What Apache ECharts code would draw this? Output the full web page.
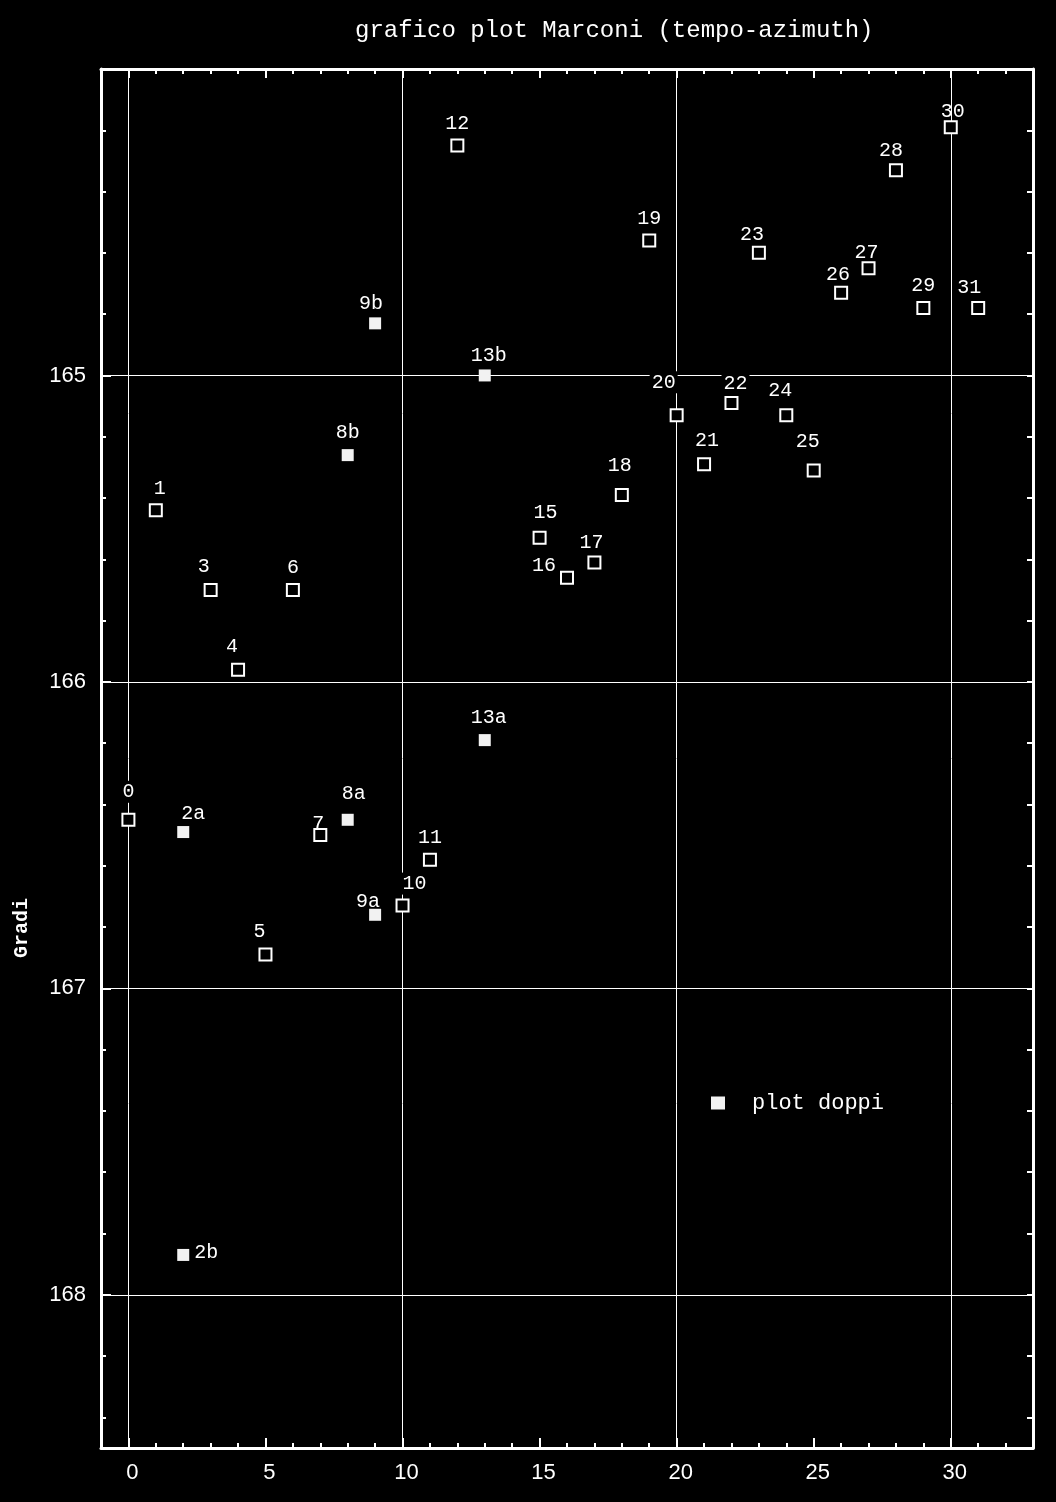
<!DOCTYPE html>
<html>
<head>
<meta charset="utf-8">
<script src="https://cdn.jsdelivr.net/npm/echarts@6/dist/echarts.min.js"></script>
<style>
html,body{margin:0;padding:0;background:#000;}
#chart{width:1056px;height:1502px;}
</style>
</head>
<body>
<div id="chart"></div>
<script>
// ---- data ----
var plotLabels = ['0','1','3','4','5','6','7','10','11','12','15','16','17','18','19','20','21','22','23','24','25','26','27','28','29','30','31'];
var plotX      = [0, 1, 3, 4, 5, 6, 7, 10, 11, 12, 15, 16, 17, 18, 19, 20, 21, 22, 23, 24, 25, 26, 27, 28, 29, 30, 31];
var plotY      = [166.45, 165.44, 165.70, 165.96, 166.89, 165.70, 166.50, 166.73, 166.58, 164.25, 165.53, 165.66, 165.61, 165.39, 164.56, 165.13, 165.29, 165.09, 164.60, 165.13, 165.31, 164.73, 164.65, 164.33, 164.78, 164.19, 164.78];

var doppiLabels = ['2a','2b','8a','8b','9a','9b','13a','13b'];
var doppiX      = [2, 2, 8, 8, 9, 9, 13, 13];
var doppiY      = [166.49, 167.87, 166.45, 165.26, 166.76, 164.83, 166.19, 165.00];

var xMajorTicks = [0, 5, 10, 15, 20, 25, 30];
var xMinorTicks = [-1,0,1,2,3,4,5,6,7,8,9,10,11,12,13,14,15,16,17,18,19,20,21,22,23,24,25,26,27,28,29,30,31,32,33];
var yMajorTicks = [164, 165, 166, 167, 168];
var yLabelTicks = [165, 166, 167, 168];
var yMinorTicks = [164.2,164.4,164.6,164.8,165.2,165.4,165.6,165.8,166.2,166.4,166.6,166.8,167.2,167.4,167.6,167.8,168.2,168.4];
var yAllTicks   = [164,164.2,164.4,164.6,164.8,165,165.2,165.4,165.6,165.8,166,166.2,166.4,166.6,166.8,167,167.2,167.4,167.6,167.8,168,168.2,168.4];
var gridX = [0, 10, 20, 30];
var gridY = [165, 166, 167, 168];

// label placement (pixels, relative to the marker centre)
var defaultOffset = [0, -22];
var labelOffset = {
  '0':[0,-28], '2a':[10,-18], '2b':[23,-2], '3':[-7,-23], '4':[-6,-23], '5':[-6,-23], '7':[-2,-11],
  '8a':[6,-26], '9a':[-7,-13], '9b':[-4,-20], '10':[12,-22], '13a':[4,-22], '13b':[4,-20],
  '15':[6,-25], '16':[-23,-12], '17':[-3,-20], '18':[-2,-29], '20':[-13,-33], '22':[4,-19],
  '23':[-7,-18], '24':[-6,-25], '25':[-6,-29], '26':[-3,-18], '27':[-2,-15], '28':[-5,-19],
  '30':[2,-16], '31':[-9,-20], '21':[3,-24], '1':[4,-22]
};
var noBackground = ['7', '9a', '27', '30', '2a', '23', '26'];

function build(labels, xs, ys) {
  return labels.map(function (n, i) {
    var lab = { offset: labelOffset[n] || defaultOffset };
    if (noBackground.indexOf(n) >= 0) { lab.backgroundColor = 'transparent'; lab.padding = 0; }
    return { name: n, value: [xs[i], ys[i]], label: lab };
  });
}

var MONO = '"Liberation Mono", "DejaVu Sans Mono", monospace';
var SANS = '"Liberation Sans", Arial, sans-serif';
var white = '#ffffff';

var chart = echarts.init(document.getElementById('chart'));
var labelStyle = {
  show: true, position: 'inside', formatter: '{b}', color: white,
  fontFamily: MONO, fontSize: 20, backgroundColor: '#000', padding: [1, 2]
};

chart.setOption({
  backgroundColor: '#000',
  animation: false,
  title: {
    text: 'grafico plot Marconi (tempo-azimuth)',
    left: 350, top: 14,
    textStyle: { color: white, fontFamily: MONO, fontSize: 24, fontWeight: 'normal' }
  },
  legend: {
    data: ['plot doppi'], left: 706, top: 1087, icon: 'rect', itemWidth: 14, itemHeight: 13,
    textStyle: { color: white, fontFamily: MONO, fontSize: 22, padding: [0, 0, 0, 22] }
  },
  graphic: [{
    type: 'text', left: 12, top: 898, rotation: Math.PI / 2,
    style: { text: 'Gradi', fill: white, font: 'bold 20px ' + MONO }
  }],
  grid: { left: 101, right: 23, top: 69, bottom: 54, show: false },
  xAxis: [
    { type: 'value', min: -1, max: 33, position: 'bottom',
      axisLine: { show: true, onZero: false, lineStyle: { color: white, width: 3 } },
      axisTick: { show: true, inside: true, length: 10, customValues: xMajorTicks, lineStyle: { color: white, width: 2 } },
      axisLabel: { show: true, customValues: xMajorTicks, color: white, fontFamily: SANS, fontSize: 22, margin: 14, padding: [0, 0, 0, 8] },
      splitLine: { show: false } },
    { type: 'value', min: -1, max: 33, position: 'bottom',
      axisLine: { show: false, onZero: false },
      axisTick: { show: true, inside: true, length: 5, customValues: xMinorTicks, lineStyle: { color: white, width: 2 } },
      axisLabel: { show: false }, splitLine: { show: false } },
    { type: 'value', min: -1, max: 33, position: 'top',
      axisLine: { show: true, onZero: false, lineStyle: { color: white, width: 3 } },
      axisTick: { show: true, inside: true, length: 5, customValues: xMinorTicks, lineStyle: { color: white, width: 2 } },
      axisLabel: { show: false }, splitLine: { show: false } },
    { type: 'value', min: -1, max: 33, position: 'top',
      axisLine: { show: false, onZero: false },
      axisTick: { show: true, inside: true, length: 9, customValues: xMajorTicks, lineStyle: { color: white, width: 2 } },
      axisLabel: { show: false }, splitLine: { show: false } }
  ],
  yAxis: [
    { type: 'value', min: 164, max: 168.5, inverse: true, position: 'left',
      axisLine: { show: true, onZero: false, lineStyle: { color: white, width: 3 } },
      axisTick: { show: true, inside: true, length: 10, customValues: yMajorTicks, lineStyle: { color: white, width: 2 } },
      axisLabel: { show: true, customValues: yLabelTicks, color: white, fontFamily: SANS, fontSize: 22, margin: 15 },
      splitLine: { show: false } },
    { type: 'value', min: 164, max: 168.5, inverse: true, position: 'left',
      axisLine: { show: false, onZero: false },
      axisTick: { show: true, inside: true, length: 5, customValues: yMinorTicks, lineStyle: { color: white, width: 2 } },
      axisLabel: { show: false }, splitLine: { show: false } },
    { type: 'value', min: 164, max: 168.5, inverse: true, position: 'right',
      axisLine: { show: true, onZero: false, lineStyle: { color: white, width: 3 } },
      axisTick: { show: true, inside: true, length: 6, customValues: yAllTicks, lineStyle: { color: white, width: 2 } },
      axisLabel: { show: false }, splitLine: { show: false } }
  ],
  series: [
    { name: 'grid', type: 'line', data: [], z: 1, xAxisIndex: 0, yAxisIndex: 0,
      markLine: {
        silent: true, symbol: 'none', label: { show: false },
        lineStyle: { color: white, width: 1, type: 'solid' },
        data: gridX.map(function (v) { return { xAxis: v }; }).concat(gridY.map(function (v) { return { yAxis: v }; }))
      } },
    { name: 'plot', type: 'scatter', z: 5, xAxisIndex: 0, yAxisIndex: 0,
      symbol: 'rect', symbolSize: 12,
      itemStyle: { color: '#000', borderColor: white, borderWidth: 2, opacity: 1 },
      label: labelStyle,
      data: build(plotLabels, plotX, plotY) },
    { name: 'plot doppi', type: 'scatter', z: 6, xAxisIndex: 0, yAxisIndex: 0,
      symbol: 'rect', symbolSize: 12,
      itemStyle: { color: '#f2f2f2', borderColor: white, borderWidth: 0, opacity: 1 },
      label: labelStyle,
      data: build(doppiLabels, doppiX, doppiY) }
  ]
});
</script>
</body>
</html>
